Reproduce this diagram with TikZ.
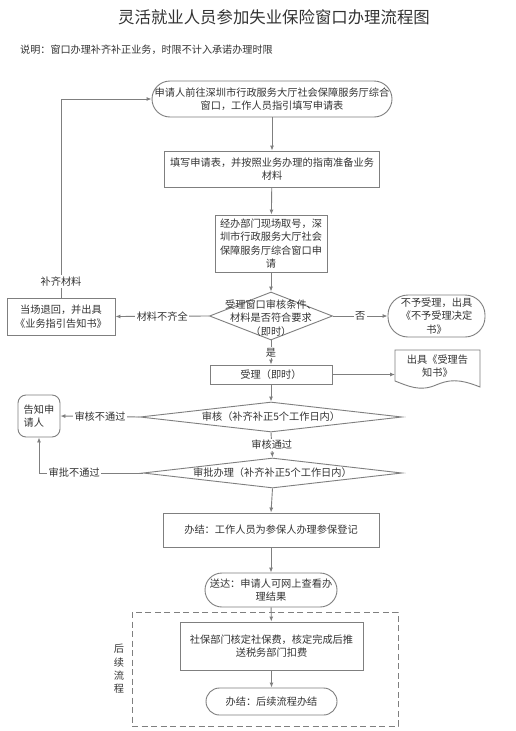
\documentclass[tikz,border=0pt]{standalone}
\usepackage{fontspec}
\setmainfont{Noto Sans CJK SC}
\usetikzlibrary{arrows.meta,shapes.geometric}
\definecolor{lc}{HTML}{7F7F7F}
\definecolor{tc}{HTML}{333333}
\tikzset{
  base/.style={draw=lc,line width=0.9pt,fill=white,text=tc,align=center,inner sep=0pt,
    font=\fontsize{10.2}{13.4}\selectfont},
  box/.style={base,rectangle},
  stad/.style={base,rectangle,rounded corners=#1},
  dia/.style={draw=lc,line width=0.9pt,fill=white,shape=diamond,inner sep=0pt,
    minimum width=#1},
  txt/.style={text=tc,align=center,inner sep=0pt,font=\fontsize{10.2}{13.4}\selectfont},
  lbl/.style={fill=white,text=tc,inner sep=1.5pt,font=\fontsize{10.2}{12}\selectfont},
  arr/.style={draw=lc,line width=0.9pt,-{Latex[length=5pt,width=4pt]}},
}
\begin{document}
\begin{tikzpicture}[x=1pt,y=-1pt]
\useasboundingbox[fill=white] (0,0) rectangle (515,731);

\node[txt,font=\fontsize{16.4}{18}\selectfont] (title) at (274,17) {灵活就业人员参加失业保险窗口办理流程图};
\node[txt,anchor=west,font=\fontsize{10.1}{12}\selectfont] (note) at (20,50) {说明：窗口办理补齐补正业务，时限不计入承诺办理时限};

\node[stad=18pt,minimum width=240pt,minimum height=36pt] (n1) at (272,99)
  {申请人前往深圳市行政服务大厅社会保障服务厅综合\\窗口，工作人员指引填写申请表};
\node[box,minimum width=215pt,minimum height=36pt] (n2) at (272,169)
  {填写申请表，并按照业务办理的指南准备业务\\材料};
\node[box,minimum width=112pt,minimum height=57pt] (n3) at (271,243.5)
  {经办部门现场取号，深\\圳市行政服务大厅社会\\保障服务厅综合窗口申\\请};

\node[dia=123pt,minimum height=48pt,aspect=2.56] (d1) at (271,316) {};
\node[txt] (d1t) at (271,318) {受理窗口审核条件、\\材料是否符合要求\\（即时）};

\node[box,minimum width=108pt,minimum height=37pt] (back) at (61,316.5)
  {当场退回，并出具\\《业务指引告知书》};
\node[stad=20pt,minimum width=97pt,minimum height=42pt] (no) at (436.5,316)
  {不予受理，出具\\《不予受理决定\\书》};

\node[box,minimum width=122pt,minimum height=19pt] (acc) at (271,374.5) {受理（即时）};
\draw[draw=lc,line width=0.9pt,fill=white] (395,350) -- (480,350) -- (480,387)
  .. controls (458,378) and (448,380) .. (436,385)
  .. controls (420,392) and (408,386) .. (395,381) -- cycle;
\node[txt] (doc) at (437.5,366) {出具《受理告\\知书》};
\coordinate (docw) at (395,374.5);

\node[dia=262pt,minimum height=30pt,aspect=8.7] (d2) at (271,417) {};
\node[txt] (d2t) at (271,417) {审核（补齐补正5个工作日内）};

\node[base,rounded corners=8pt,minimum width=42pt,minimum height=42pt,align=left] (tell) at (39,416)
  {告知申\\请人};

\node[dia=259pt,minimum height=30pt,aspect=8.6] (d3) at (272.5,473) {};
\node[txt] (d3t) at (272.5,473) {审批办理（补齐补正5个工作日内）};

\node[box,minimum width=216pt,minimum height=34pt] (done) at (271,530) {办结：工作人员为参保人办理参保登记};
\node[stad=17pt,minimum width=132pt,minimum height=34pt] (send) at (271,590)
  {送达：申请人可网上查看办\\理结果};

\draw[draw=lc,line width=0.9pt,dash pattern=on 6pt off 3.5pt] (132,612) rectangle (398,726);
\node[txt,font=\fontsize{10.2}{13.4}\selectfont] (later) at (119,669) {后\\续\\流\\程};

\node[box,minimum width=183pt,minimum height=48pt] (sb) at (271.5,646)
  {社保部门核定社保费，核定完成后推\\送税务部门扣费};
\node[stad=13.5pt,minimum width=131pt,minimum height=27pt] (fin) at (271.5,701.5)
  {办结：后续流程办结};

\draw[arr] (n1) -- (n2);
\draw[arr] (n2) -- (n3);
\draw[arr] (n3) -- (d1.north);
\draw[arr] (d1.west) -- node[lbl]{材料不齐全} (back.east);
\draw[arr] (back.north) |- node[lbl,pos=0.04]{补齐材料} (n1.west);
\draw[arr] (d1.east) -- node[lbl]{否} (no.west);
\draw[arr] (d1.south) -- node[lbl]{是} (acc.north);
\draw[arr] (acc.east) -- (docw);
\draw[arr] (acc.south) -- (d2.north);
\draw[arr] (d2.west) -- node[lbl]{审核不通过} (tell.east);
\draw[arr] (d2.south) -- node[lbl]{审核通过} (d3.north);
\draw[arr] (d3.west) -| node[lbl,pos=0.33]{审批不通过} (tell.south);
\draw[arr] (d3.south) -- (done.north);
\draw[arr] (done) -- (send);
\draw[arr] (send) -- (sb);
\draw[arr] (sb) -- (fin);
\end{tikzpicture}
\end{document}
